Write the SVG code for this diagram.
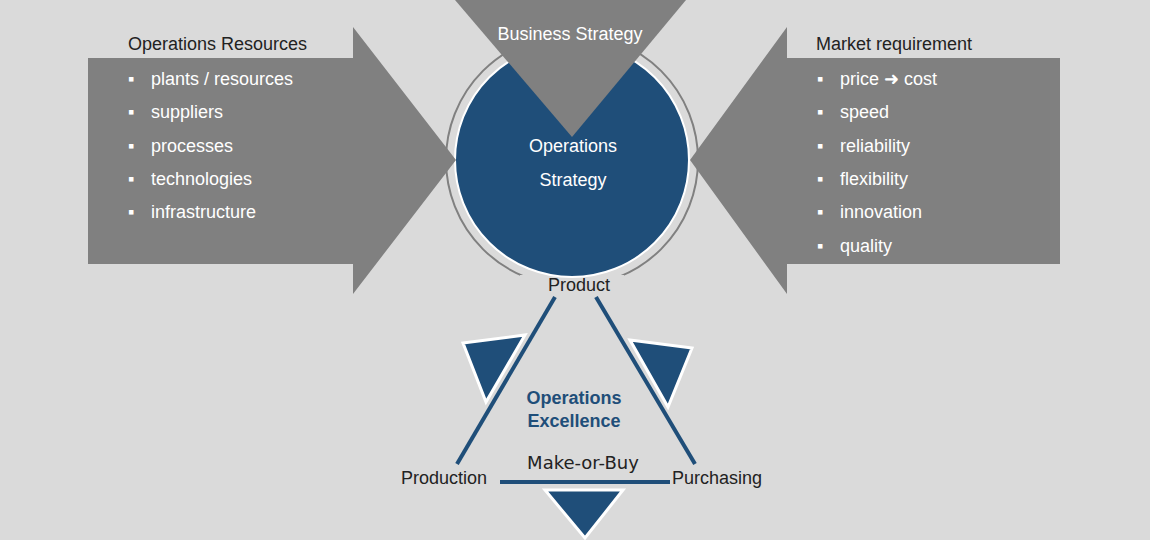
<svg xmlns="http://www.w3.org/2000/svg" width="1150" height="540" viewBox="0 0 1150 540">
<style>
text{font-family:"Liberation Sans",Arial,sans-serif;font-size:18px}
.w{fill:#fff}.k{fill:#222}
.g{fill:#808080}
.tri{fill:#1f4e79;stroke:#fff;stroke-width:3}
.ln{stroke:#1f4e79;stroke-width:4;fill:none}
</style>
<rect width="1150" height="540" fill="#dadada"/>
<g id="ring"><circle cx="572" cy="160" r="126" fill="none" stroke="#808080" stroke-width="2"/><rect x="520" y="275" width="104" height="20" fill="#dadada"/></g>
<g id="circle"><circle cx="572" cy="160" r="117" fill="#1f4e79" stroke="#fff" stroke-width="2"/>
<text class="w" x="573" y="152" text-anchor="middle">Operations</text><text class="w" x="573" y="186" text-anchor="middle">Strategy</text></g>
<g id="business"><polygon class="g" points="455,0 686,0 572,137"/><text class="w" x="570" y="40" text-anchor="middle">Business Strategy</text></g>
<g id="resources"><polygon class="g" points="88,58 353,58 353,27 456,160 353,294 353,264 88,264"/>
<text class="k" x="128" y="50">Operations Resources</text>
<g class="w"><text x="128" y="85">▪</text><text x="151" y="85">plants / resources</text>
<text x="128" y="118">▪</text><text x="151" y="118">suppliers</text>
<text x="128" y="152">▪</text><text x="151" y="152">processes</text>
<text x="128" y="185">▪</text><text x="151" y="185">technologies</text>
<text x="128" y="218">▪</text><text x="151" y="218">infrastructure</text></g></g>
<g id="market"><polygon class="g" points="1060,58 787,58 787,27 690,160 787,294 787,264 1060,264"/>
<text class="k" x="816" y="50">Market requirement</text>
<g class="w"><text x="817" y="85">▪</text><text x="840" y="85">price ➜ cost</text>
<text x="817" y="118">▪</text><text x="840" y="118">speed</text>
<text x="817" y="152">▪</text><text x="840" y="152">reliability</text>
<text x="817" y="185">▪</text><text x="840" y="185">flexibility</text>
<text x="817" y="218">▪</text><text x="840" y="218">innovation</text>
<text x="817" y="252">▪</text><text x="840" y="252">quality</text></g></g>
<g id="excellence">
<polygon class="tri" points="463,343 525,335 486,402"/>
<polygon class="tri" points="630,340 692,348 668,407"/>
<polygon class="tri" points="545,490 623,490 585,538"/>
<g id="connectors"><line class="ln" x1="555" y1="297" x2="457" y2="464"/><line class="ln" x1="596" y1="297" x2="695" y2="464"/><line class="ln" x1="500" y1="482" x2="670" y2="482"/></g>
<text class="k" x="579" y="291" text-anchor="middle">Product</text>
<text x="574" y="404" text-anchor="middle" font-weight="bold" font-size="19" fill="#1f4e79">Operations</text>
<text x="574" y="427" text-anchor="middle" font-weight="bold" font-size="19" fill="#1f4e79">Excellence</text>
<text class="k" x="583" y="469" text-anchor="middle" style="font-family:'DejaVu Sans',sans-serif">Make-or-Buy</text>
<text class="k" x="401" y="484">Production</text>
<text class="k" x="672" y="484">Purchasing</text></g>
</svg>
